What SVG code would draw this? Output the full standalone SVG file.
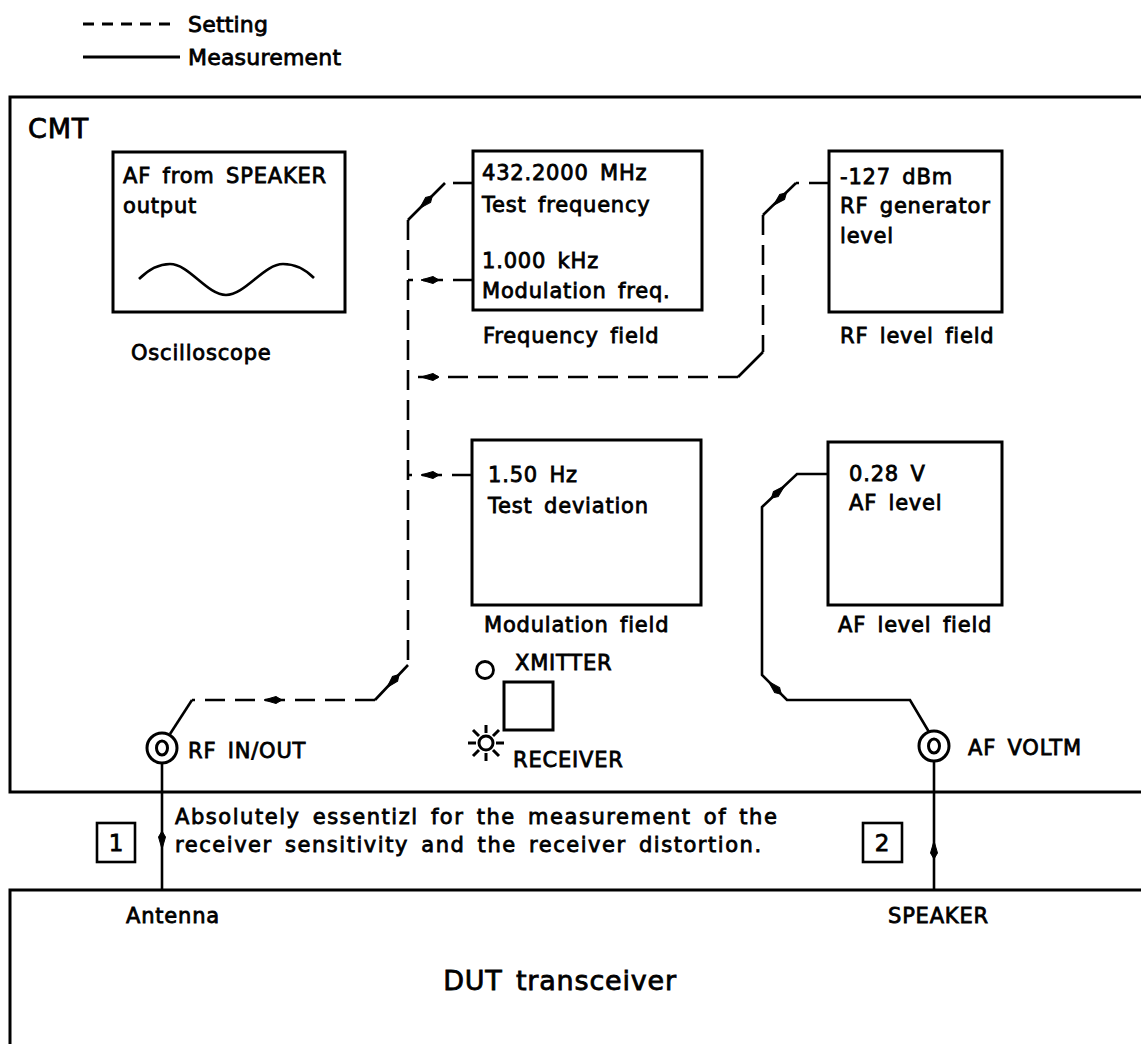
<svg xmlns="http://www.w3.org/2000/svg" width="1141" height="1044" viewBox="0 0 1141 1044">
<style>
.box{fill:none;stroke:#000;stroke-width:3}
.t{font-family:"DejaVu Sans","Liberation Sans",sans-serif;font-size:21px;fill:#000;stroke:#000;stroke-width:0.8;letter-spacing:0.8px;word-spacing:4px}
.big{font-size:27px}
.note{letter-spacing:1.55px}
.lg{font-size:22px;letter-spacing:0.2px}
.dash{fill:none;stroke:#000;stroke-width:2.6;stroke-dasharray:20 10}
.sol{fill:none;stroke:#000;stroke-width:2.6}
.ah{fill:#000;stroke:#000;stroke-width:1}
</style>
<defs>
<path id="ah" d="M9,0 L-3,-3.5 L-9,0 L-3,3.5 Z"/>
</defs>
<g id="legend">
<line x1="83" y1="24" x2="175" y2="24" stroke="#000" stroke-width="3" stroke-dasharray="11 8"/>
<text class="t lg" x="188" y="32">Setting</text>
<line x1="83" y1="57" x2="180" y2="57" stroke="#000" stroke-width="3"/>
<text class="t lg" x="188" y="65">Measurement</text>
</g>
<g id="cmt">
<rect class="box" x="10" y="97" width="1200" height="695"/>
<text class="t big" x="28" y="138">CMT</text>
</g>
<g id="oscilloscope">
<rect class="box" x="113" y="152" width="232" height="160"/>
<text class="t" x="123" y="183">AF from SPEAKER</text>
<text class="t" x="123" y="213">output</text>
<path class="sol" d="M139,279 C150,268 160,264 170,264 C189,264 207,295 226,295 C245,295 264,264 283,264 C293,264 304,268 314,278"/>
<text class="t" x="131" y="360">Oscilloscope</text>
</g>
<g id="frequency-field">
<rect class="box" x="473" y="151" width="229" height="159"/>
<text class="t" x="482" y="180">432.2000 MHz</text>
<text class="t" x="482" y="212">Test frequency</text>
<text class="t" x="482" y="268">1.000 kHz</text>
<text class="t" x="482" y="298">Modulation freq.</text>
<text class="t" x="483" y="343">Frequency field</text>
</g>
<g id="rf-level-field">
<rect class="box" x="829" y="151" width="173" height="161"/>
<text class="t" x="840" y="184">-127 dBm</text>
<text class="t" x="840" y="213">RF generator</text>
<text class="t" x="840" y="243">level</text>
<text class="t" x="840" y="343">RF level field</text>
</g>
<g id="modulation-field">
<rect class="box" x="472" y="440" width="229" height="165"/>
<text class="t" x="488" y="482">1.50 Hz</text>
<text class="t" x="488" y="513">Test deviation</text>
<text class="t" x="484" y="632">Modulation field</text>
</g>
<g id="af-level-field">
<rect class="box" x="828" y="442" width="174" height="163"/>
<text class="t" x="849" y="481">0.28 V</text>
<text class="t" x="849" y="510">AF level</text>
<text class="t" x="838" y="632">AF level field</text>
</g>
<g id="xmitter-receiver">
<circle cx="485" cy="670" r="8.5" fill="none" stroke="#000" stroke-width="2.8"/>
<text class="t" x="515" y="670">XMITTER</text>
<rect x="504" y="682" width="49" height="48" fill="none" stroke="#000" stroke-width="3"/>
<g stroke="#000" stroke-width="3" fill="none">
<circle cx="486" cy="743" r="7"/>
<path d="M486,733 V725 M486,753 V761 M476,743 H468 M496,743 H504 M479,736 L473,730 M493,736 L499,730 M479,750 L473,756 M493,750 L499,756"/>
</g>
<text class="t" x="513" y="767">RECEIVER</text>
</g>
<g id="rf-in-out">
<circle cx="162" cy="748" r="15" fill="#fff" stroke="#000" stroke-width="3"/>
<ellipse cx="162" cy="748" rx="5.5" ry="7" fill="none" stroke="#000" stroke-width="3"/>
<text class="t" x="188" y="758">RF IN/OUT</text>
</g>
<g id="af-voltm">
<circle cx="934" cy="746" r="15" fill="#fff" stroke="#000" stroke-width="3"/>
<ellipse cx="934" cy="746" rx="5.5" ry="7" fill="none" stroke="#000" stroke-width="3"/>
<text class="t" x="968" y="755">AF VOLTM</text>
</g>
<g id="note">
<text class="t note" x="175" y="824">Absolutely essentizl for the measurement of the</text>
<text class="t note" x="175" y="852">receiver sensitivity and the receiver distortion.</text>
</g>
<g id="marker-1">
<rect x="97" y="823" width="38" height="39" fill="none" stroke="#000" stroke-width="2.6"/>
<text class="t" x="116" y="851" text-anchor="middle" style="font-size:23px;letter-spacing:0">1</text>
</g>
<g id="marker-2">
<rect x="863" y="823" width="39" height="39" fill="none" stroke="#000" stroke-width="2.6"/>
<text class="t" x="882" y="851" text-anchor="middle" style="font-size:23px;letter-spacing:0">2</text>
</g>
<g id="dut">
<rect class="box" x="10" y="890" width="1200" height="300"/>
<text class="t" x="126" y="923">Antenna</text>
<text class="t" x="888" y="923">SPEAKER</text>
<text class="t big" x="560" y="990" text-anchor="middle">DUT transceiver</text>
</g>
<g id="connectors">
<path class="dash" d="M473,183 H445"/>
<path class="sol" d="M445,183 L408,220"/>
<path class="dash" d="M408,220 V665"/>
<path class="sol" d="M408,665 L375,700"/>
<path class="dash" d="M375,700 H192"/>
<path class="sol" d="M192,700 L170,734"/>
<path class="dash" d="M473,280 H408"/>
<path class="dash" d="M829,183 H796"/>
<path class="sol" d="M796,183 L763,215"/>
<path class="dash" d="M763,215 V352"/>
<path class="sol" d="M763,352 L738,377"/>
<path class="dash" d="M738,377 H408"/>
<path class="dash" d="M472,475 H408"/>
<use href="#ah" class="ah" transform="translate(426,202) rotate(135)"/>
<use href="#ah" class="ah" transform="translate(430,280) rotate(180)"/>
<use href="#ah" class="ah" transform="translate(780,199) rotate(136)"/>
<use href="#ah" class="ah" transform="translate(430,377) rotate(180)"/>
<use href="#ah" class="ah" transform="translate(430,475) rotate(180)"/>
<use href="#ah" class="ah" transform="translate(393,681) rotate(133)"/>
<use href="#ah" class="ah" transform="translate(273,700) rotate(180)"/>
<path class="sol" d="M929,732 L910,700 H787 L762,675 V507 L797,474 H828"/>
<use href="#ah" class="ah" transform="translate(775,688) rotate(-135)"/>
<use href="#ah" class="ah" transform="translate(778,492) rotate(-43)"/>
<path class="sol" d="M162,763 V890"/>
<use href="#ah" class="ah" transform="translate(162,840) rotate(90)"/>
<path class="sol" d="M934,761 V890"/>
<use href="#ah" class="ah" transform="translate(934,850) rotate(-90)"/>
</g>
</svg>
